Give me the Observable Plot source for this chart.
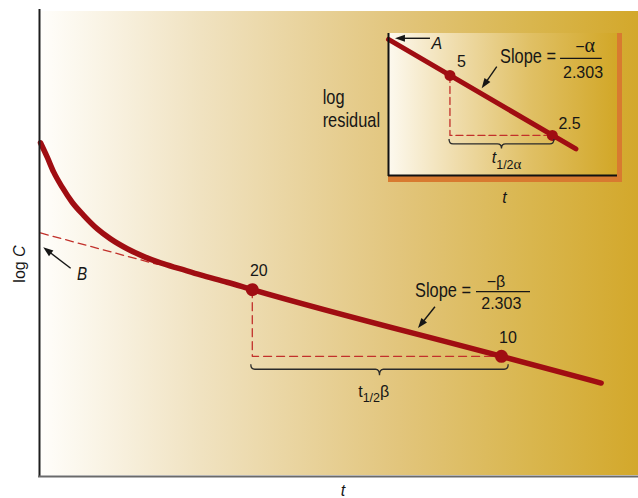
<!DOCTYPE html>
<html><head><meta charset="utf-8">
<script src="https://cdn.jsdelivr.net/npm/d3@7"></script>
<script src="https://cdn.jsdelivr.net/npm/@observablehq/plot@0.6"></script>
<style>
html,body{margin:0;padding:0;background:#fff;}
#wrap{position:relative;width:638px;height:498px;overflow:hidden;}
#inset{position:absolute;left:300px;top:20px;}
svg{display:block}
</style></head><body>
<div id="wrap"><div id="main"></div><div id="inset"></div></div>
<script>
// ---------------- main chart data (log C vs t) ----------------
const curveT = [0, 0.27, 0.53, 0.87, 1.27, 1.74, 2.28, 2.81, 3.48, 4.15, 4.82, 5.62, 6.42, 7.49, 8.5, 18.5, 22.5];
const curveC = [92, 79.2, 67.8, 58.0, 49.6, 43.2, 37.6, 33.9, 30.6, 28.2, 26.4, 24.8, 23.3, 21.6, 20, 10, 7.58];
const betaT = [8.5, 18.5];
const betaC = [20, 10];
const betaLabels = ["20", "10"];
const extrapT = [0, 4.7];
const extrapC = [36.05, 26.0];
const betaBraceT = [8.46, 18.79];
const betaBraceC = 8.7;
const mainArrowFrom = [[15.85, 16.67], [1.23, 24.84]];
const mainArrowTo = [[15.17, 13.36], [0.13, 30.9]];
const bLabel = {t: 1.485, c: 22.0, text: "B"};
const betaSlope = {t: 15.05, c: 18.49, num: "\u2212\u03B2", den: "2.303"};
const betaHalf = {t: 12.77, c: 6.54};
const yLabel = {t: -0.6, c: 25.98};
const xLabel = {t: 12.14, c: 2.344, text: "t"};

// ---------------- inset data (log residual vs t) ----------------
const residT = [0, 1.83];
const residR = [7.58, 2.14];
const alphaT = [0.6, 1.6];
const alphaR = [5, 2.5];
const alphaLabels = ["5", "2.5"];
const alphaLabelT = [0.713, 1.768];
const alphaLabelR = [5.50, 2.70];
const alphaBraceT = [0.596, 1.62];
const alphaBraceR = 2.253;
const insetArrowFrom = [[0.41, 7.64], [1.062, 5.50]];
const insetArrowTo = [[0.068, 7.64], [0.915, 4.29]];
const aLabel = {t: 0.42, r: 6.81, text: "A"};
const alphaSlope = {t: 1.094, r: 5.72, num: "\u2212", greek: "\u03B1", den: "2.303"};
const alphaHalf = {t: 1.013, r: 1.80};
const residLabel = {t: -0.638, r: 3.58, lines: ["log", "residual"]};
const insetXLabel = {t: 1.133, r: 1.14, text: "t"};

// ---------------- styles ----------------
const REG = "'Liberation Sans', Arial, Helvetica, sans-serif";
const SERIF = "'Liberation Serif', 'DejaVu Serif', serif";
const NARROW_SCALE = 0.82;
const RED = "#a00d12";
const DASH = "#c2302b";
const INK = "#161616";
const svgNS = "http://www.w3.org/2000/svg";
function el(tag, attrs, parent) {
  const e = document.createElementNS(svgNS, tag);
  for (const k in attrs) e.setAttribute(k, attrs[k]);
  if (parent) parent.appendChild(e);
  return e;
}
function background(id, stops, shadow) {
  return (index, scales, values, dims) => {
    const g = el("g", {});
    const defs = el("defs", {}, g);
    const lg = el("linearGradient", {id, x1: 0, x2: 1, y1: 0, y2: 0}, defs);
    stops.forEach(([o, c]) => el("stop", {offset: o, "stop-color": c}, lg));
    const x0 = dims.marginLeft, y0 = dims.marginTop;
    const w = dims.width - dims.marginLeft - dims.marginRight;
    const h = dims.height - dims.marginTop - dims.marginBottom;
    if (shadow) el("rect", {x: x0, y: y0, width: w + 5, height: h + 7, fill: shadow}, g);
    el("rect", {x: x0, y: y0, width: w, height: h, fill: `url(#${id})`}, g);
    return g;
  };
}
// condensed-looking text (Helvetica Condensed substitute)
function narrowText(t, v, lines, size, italic, lineHeight) {
  return (index, {x, y}) => {
    const g = el("g", {transform: `translate(${x(t)},${y(v)}) scale(${NARROW_SCALE},1)`, fill: INK});
    lines.forEach((s, i) => {
      const tx = el("text", {x: 0, y: i * lineHeight, "text-anchor": "start", "font-family": REG, "font-size": size}, g);
      if (italic) tx.setAttribute("font-style", "italic");
      tx.textContent = s;
    });
    return g;
  };
}
function arrowsMark(from, to) {
  return (index, {x, y}) => {
    const g = el("g", {});
    from.forEach((f, i) => {
      const ax = x(f[0]), ay = y(f[1]), bx = x(to[i][0]), by = y(to[i][1]);
      const a = Math.atan2(by - ay, bx - ax), c = Math.cos(a), s = Math.sin(a);
      const L = 10, W = 3.6;
      const hx = bx - L * c, hy = by - L * s;
      el("line", {x1: ax, y1: ay, x2: hx + c, y2: hy + s, stroke: INK, "stroke-width": 1.4}, g);
      el("path", {d: `M${bx},${by}L${hx - W * s},${hy + W * c}L${hx + W * s},${hy - W * c}Z`, fill: INK}, g);
    });
    return g;
  };
}
function braceMark(span, v, tip) {
  return (index, {x, y}) => {
    const x1 = x(span[0]), x2 = x(span[1]), Y = y(v), xm = (x1 + x2) / 2, r = 4;
    return el("path", {
      d: `M${x1},${Y - r - 1}Q${x1},${Y} ${x1 + r},${Y}L${xm - r},${Y}Q${xm},${Y} ${xm},${Y + tip}Q${xm},${Y} ${xm + r},${Y}L${x2 - r},${Y}Q${x2},${Y} ${x2},${Y - r - 1}`,
      fill: "none", stroke: "#2a2a2a", "stroke-width": 1.3
    });
  };
}
function slopeLabel(t, v, lay, numParts, den) {
  return (index, {x, y}) => {
    const X = x(t), Y = y(v);
    const g = el("g", {fill: INK});
    const sg = el("g", {transform: `translate(${X},${Y}) scale(${NARROW_SCALE},1)`}, g);
    const s = el("text", {x: 0, y: 0, "text-anchor": "start", "font-family": REG, "font-size": 20}, sg);
    s.textContent = "Slope =";
    el("line", {x1: X + lay.bar[0], x2: X + lay.bar[1], y1: Y + lay.barDy, y2: Y + lay.barDy, stroke: INK, "stroke-width": 1.3}, g);
    const n = el("text", {x: X + lay.num[0], y: Y + lay.num[1], "text-anchor": "middle", "font-family": REG, "font-size": 16}, g);
    numParts.forEach(p => {
      const ts = el("tspan", p.serif ? {"font-family": SERIF, "font-size": p.size || 16} : {}, n);
      ts.textContent = p.text;
    });
    const d = el("text", {x: X + lay.den[0], y: Y + lay.den[1], "text-anchor": "middle", "font-family": REG, "font-size": 16}, g);
    d.textContent = den;
    return g;
  };
}
function halfLife(t, v, tItalic, subText, greek, greekSub) {
  return (index, {x, y}) => {
    const X = x(t), Y = y(v);
    const tx = el("text", {x: X, y: Y, "text-anchor": "start", "font-family": REG, "font-size": 16, fill: INK});
    const a = el("tspan", tItalic ? {"font-style": "italic"} : {}, tx); a.textContent = "t";
    const b = el("tspan", {dy: 5.5, "font-size": 12.5}, tx); b.textContent = subText;
    if (greekSub) {
      const c = el("tspan", {"font-family": SERIF, "font-size": 15}, tx); c.textContent = greek;
    } else {
      const c = el("tspan", {dy: -5.5, "font-size": 16}, tx); c.textContent = greek;
    }
    return tx;
  };
}

// ---------------- main plot ----------------
const curve = curveT.map((t, i) => ({t, c: curveC[i]}));
const betaPts = betaT.map((t, i) => ({t, c: betaC[i], label: betaLabels[i]}));
const extrap = extrapT.map((t, i) => ({t, c: extrapC[i]}));
const betaDash = [{t: betaT[0], c: betaC[0]}, {t: betaT[0], c: betaC[1]}, {t: betaT[1], c: betaC[1]}];

const main = Plot.plot({
  width: 638, height: 498,
  marginLeft: 40, marginRight: 0, marginTop: 11, marginBottom: 23,
  x: {domain: [0, 24], axis: null},
  y: {type: "log", domain: [2.9, 360], axis: null},
  style: {background: "#fff", overflow: "visible"},
  marks: [
    background("mainGrad", [[0, "#fffefb"], [0.27, "#f0e2c0"], [0.6, "#e2c57c"], [0.82, "#d9b64e"], [1, "#d3a82b"]]),
    Plot.line(extrap, {x: "t", y: "c", stroke: DASH, strokeWidth: 1.3, strokeDasharray: "8,5"}),
    Plot.line(betaDash, {x: "t", y: "c", stroke: DASH, strokeWidth: 1.3, strokeDasharray: "8,5"}),
    Plot.line(curve, {x: "t", y: "c", stroke: RED, strokeWidth: 5.5, curve: "monotone-x"}),
    Plot.dot(betaPts, {x: "t", y: "c", r: 6.5, fill: RED}),
    Plot.text(betaPts, {x: "t", y: "c", text: "label", dx: 6.5, dy: -13.3, lineAnchor: "bottom", textAnchor: "middle", fontFamily: REG, fontSize: 16, fill: INK}),
    braceMark(betaBraceT, betaBraceC, 6),
    halfLife(betaHalf.t, betaHalf.c, false, "1/2", "\u03B2", false),
    arrowsMark(mainArrowFrom, mainArrowTo),
    slopeLabel(betaSlope.t, betaSlope.c, {bar: [61, 115], barDy: -5, num: [81, -9.7], den: [86.3, 12.6]}, [{text: betaSlope.num}], betaSlope.den),
    narrowText(bLabel.t, bLabel.c, [bLabel.text], 18.5, true, 0),
    Plot.ruleX([0], {stroke: "#1e1e1e", strokeWidth: 2, dx: -1, insetTop: -2, insetBottom: -2}),
    Plot.ruleY([2.9], {stroke: "#6a6a6a", strokeWidth: 2.2, dy: 1, insetLeft: -2}),
    Plot.text([xLabel], {x: "t", y: "c", text: "text", lineAnchor: "bottom", textAnchor: "middle", fontFamily: REG, fontSize: 16, fontStyle: "italic", fill: INK}),
    (index, {x, y}) => {
      const tx = el("text", {transform: `translate(${x(yLabel.t)},${y(yLabel.c)}) rotate(-90)`, "text-anchor": "middle", "font-family": REG, "font-size": 16, fill: INK});
      const a = el("tspan", {}, tx); a.textContent = "log ";
      const b = el("tspan", {"font-style": "italic"}, tx); b.textContent = "C";
      return tx;
    }
  ]
});
document.getElementById("main").appendChild(main);

// ---------------- inset plot ----------------
const resid = residT.map((t, i) => ({t, r: residR[i]}));
const alphaPts = alphaT.map((t, i) => ({t, r: alphaR[i]}));
const alphaLbl = alphaLabels.map((s, i) => ({t: alphaLabelT[i], r: alphaLabelR[i], label: s}));
const alphaDash = [{t: alphaT[0], r: alphaR[0]}, {t: alphaT[0], r: alphaR[1]}, {t: alphaT[1], r: alphaR[1]}];

const inset = Plot.plot({
  width: 338, height: 190,
  marginLeft: 88, marginRight: 21, marginTop: 13, marginBottom: 35,
  x: {domain: [0, 2.236], axis: null},
  y: {type: "log", domain: [1.574, 8.12], axis: null},
  style: {background: "transparent", overflow: "visible"},
  marks: [
    background("insetGrad", [[0, "#fdf9ef"], [0.3, "#efdcab"], [0.62, "#e0c065"], [1, "#d2a727"]], "#d87a30"),
    Plot.line(alphaDash, {x: "t", y: "r", stroke: DASH, strokeWidth: 1.3, strokeDasharray: "7,4"}),
    Plot.line(resid, {x: "t", y: "r", stroke: RED, strokeWidth: 5}),
    Plot.dot(alphaPts, {x: "t", y: "r", r: 5.5, fill: RED}),
    Plot.text(alphaLbl, {x: "t", y: "r", text: "label", lineAnchor: "bottom", textAnchor: "middle", fontFamily: REG, fontSize: 16, fill: INK}),
    braceMark(alphaBraceT, alphaBraceR, 4.5),
    halfLife(alphaHalf.t, alphaHalf.r, true, "1/2", alphaSlope.greek, true),
    arrowsMark(insetArrowFrom, insetArrowTo),
    slopeLabel(alphaSlope.t, alphaSlope.r, {bar: [60, 101.7], barDy: -5, num: [85, -11.6], den: [83, 15]}, [{text: alphaSlope.num}, {text: alphaSlope.greek, serif: true, size: 20}], alphaSlope.den),
    Plot.text([aLabel], {x: "t", y: "r", text: "text", lineAnchor: "bottom", textAnchor: "start", fontFamily: REG, fontSize: 16, fontStyle: "italic", fill: INK}),
    narrowText(residLabel.t, residLabel.r, residLabel.lines, 20, false, 23.3),
    Plot.text([insetXLabel], {x: "t", y: "r", text: "text", lineAnchor: "bottom", textAnchor: "middle", fontFamily: REG, fontSize: 16, fontStyle: "italic", fill: INK}),
    Plot.ruleX([0], {stroke: "#111", strokeWidth: 2, insetBottom: -1}),
    Plot.ruleY([1.574], {stroke: "#111", strokeWidth: 2})
  ]
});
document.getElementById("inset").appendChild(inset);
</script>
</body></html>
